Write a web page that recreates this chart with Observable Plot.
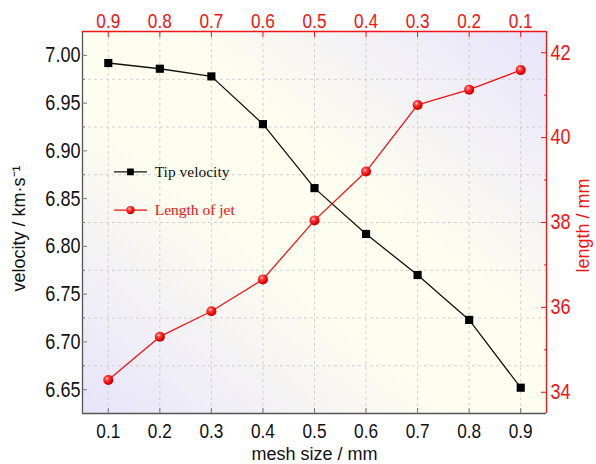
<!DOCTYPE html>
<html><head><meta charset="utf-8">
<script src="https://cdn.jsdelivr.net/npm/d3@7"></script>
<script src="https://cdn.jsdelivr.net/npm/@observablehq/plot@0.6"></script>
<style>
body{margin:0;background:#fff;}
#chart{width:596px;height:464px;position:relative;}
</style></head><body><div id="chart"></div>
<script>
// ---- data ----
const meshSize = [0.1, 0.2, 0.3, 0.4, 0.5, 0.6, 0.7, 0.8, 0.9];
const tipVelocity = [6.992, 6.986, 6.978, 6.928, 6.861, 6.813, 6.770, 6.723, 6.652];
const meshSizeTop = [0.9, 0.8, 0.7, 0.6, 0.5, 0.4, 0.3, 0.2, 0.1];
const jetLength = [34.29, 35.31, 35.91, 36.66, 38.05, 39.20, 40.77, 41.13, 41.59];
const velocityTicks = [6.65, 6.70, 6.75, 6.80, 6.85, 6.90, 6.95, 7.00];
const velocityMinor = [6.675, 6.725, 6.775, 6.825, 6.875, 6.925, 6.975];
const lengthTicks = [34, 36, 38, 40, 42];
const lengthMinor = [35, 37, 39, 41];
const bottomTicks = [0.1, 0.2, 0.3, 0.4, 0.5, 0.6, 0.7, 0.8, 0.9];
const topTicks = [0.9, 0.8, 0.7, 0.6, 0.5, 0.4, 0.3, 0.2, 0.1];
const xDomain = [0.05, 0.95];
const yDomain = [6.625, 7.025];
const lengthDomain = [33.5, 42.5];
const legendLabels = ["Tip velocity", "Length of jet"];
const legendColors = ["#111111", "#f01010"];

// ---- helpers ----
const RED = "#f01414";
const topToX = m => xDomain[0] + xDomain[1] - m;
const lenToY = L => yDomain[0] + (L - lengthDomain[0]) / (lengthDomain[1] - lengthDomain[0]) * (yDomain[1] - yDomain[0]);
const yToLen = v => lengthDomain[0] + (v - yDomain[0]) / (yDomain[1] - yDomain[0]) * (lengthDomain[1] - lengthDomain[0]);

const velData = meshSize.map((m, i) => ({x: m, y: tipVelocity[i]}));
const lenData = meshSizeTop.map((m, i) => ({x: topToX(m), y: lenToY(jetLength[i])}));

// legend placement (data units inside frame)
const lgX0 = 0.112, lgX1 = 0.174, lgXm = 0.143, lgXt = 0.19;
const lgY = [6.878, 6.838];
const legendLine = legendLabels.flatMap((l, i) => [{x: lgX0, y: lgY[i], k: i}, {x: lgX1, y: lgY[i], k: i}]);
const legendPts = legendLabels.map((l, i) => ({x: lgXm, xt: lgXt, y: lgY[i], label: l, k: i}));

const tickFont = "'Liberation Sans', Arial, sans-serif";
const titleFont = "'Liberation Sans', Arial, sans-serif";

const plot = Plot.plot({
  width: 596,
  height: 464,
  marginLeft: 82,
  marginRight: 50,
  marginTop: 31,
  marginBottom: 51,
  style: {fontFamily: tickFont, fontSize: "20px", background: "transparent", overflow: "visible"},
  x: {domain: xDomain, axis: null},
  y: {domain: yDomain, axis: null},
  marks: [
    Plot.frame({fill: "url(#bgGrad)", stroke: null}),
    Plot.gridY(velocityMinor, {stroke: "#c8c8c8", strokeOpacity: 0.8, strokeDasharray: "3,3"}),
    Plot.gridX(bottomTicks, {stroke: "#c8c8c8", strokeOpacity: 0.8, strokeDasharray: "3,3"}),
    // frame edges
    Plot.ruleX([xDomain[0]], {stroke: "#555", strokeWidth: 1.3}),
    Plot.ruleY([yDomain[0]], {stroke: "#555", strokeWidth: 1.3}),
    Plot.ruleX([xDomain[1]], {stroke: RED, strokeWidth: 1.3}),
    Plot.ruleY([yDomain[1]], {stroke: RED, strokeWidth: 1.3}),
    // left axis (ticks pointing inward)
    Plot.axisY(velocityTicks, {anchor: "left", tickSize: 5, dx: 5, tickPadding: 2, stroke: "#777", fill: "#111", fontSize: 21.5, tickFormat: d => d.toFixed(2), label: null}),
    Plot.axisY(velocityMinor, {anchor: "left", tickSize: 3, dx: 3, stroke: "#777", fill: "none", label: null}),
    // right axis
    Plot.axisY(lengthTicks.map(lenToY), {anchor: "right", tickSize: 6, dx: -6, tickPadding: 4, stroke: RED, fill: RED, fontSize: 21.5, tickFormat: v => String(Math.round(yToLen(v))), label: null}),
    Plot.axisY(lengthMinor.map(lenToY), {anchor: "right", tickSize: 3, dx: -3, stroke: RED, fill: "none", label: null}),
    // bottom axis
    Plot.axisX(bottomTicks, {anchor: "bottom", tickSize: 5, dy: -5, tickPadding: 10, stroke: "#777", fill: "#111", fontSize: 20.5, tickFormat: d => d.toFixed(1), label: null}),
    // top axis
    Plot.axisX(topTicks.map(topToX), {anchor: "top", tickSize: 5, dy: 5, tickPadding: 4, stroke: RED, fill: RED, fontSize: 20.5, tickFormat: x => (xDomain[0] + xDomain[1] - x).toFixed(1), label: null}),
    // titles
    Plot.text(["mesh size / mm"], {frameAnchor: "bottom", dy: 41, text: d => d, textAnchor: "middle", lineAnchor: "middle", fontFamily: titleFont, fontSize: 18, fill: "#111"}),
    Plot.text(["velocity / km·s⁻¹"], {frameAnchor: "left", dx: -63, dy: 6, rotate: -90, text: d => d, textAnchor: "middle", lineAnchor: "middle", fontFamily: titleFont, fontSize: 18, fill: "#111"}),
    Plot.text(["length / mm"], {frameAnchor: "right", dx: 37, dy: 3, rotate: -90, text: d => d, textAnchor: "middle", lineAnchor: "middle", fontFamily: titleFont, fontSize: 18, fill: RED}),
    // series
    Plot.line(velData, {x: "x", y: "y", stroke: "#111", strokeWidth: 1.3}),
    Plot.dot(velData, {x: "x", y: "y", symbol: "square", r: 4.6, fill: "#000", stroke: "none"}),
    Plot.line(lenData, {x: "x", y: "y", stroke: RED, strokeWidth: 1.3}),
    Plot.dot(lenData, {x: "x", y: "y", r: 5, fill: "url(#ball)", stroke: "none"}),
    // legend
    Plot.line(legendLine, {x: "x", y: "y", z: "k", stroke: d => legendColors[d.k], strokeWidth: 1.3}),
    Plot.dot(legendPts.filter(d => d.k === 0), {x: "x", y: "y", symbol: "square", r: 3.8, fill: "#000", stroke: "none"}),
    Plot.dot(legendPts.filter(d => d.k === 1), {x: "x", y: "y", r: 4.2, fill: "url(#ball)", stroke: "none"}),
    Plot.text(legendPts, {x: "xt", y: "y", text: "label", textAnchor: "start", lineAnchor: "middle", fontFamily: "'Liberation Serif', 'Times New Roman', serif", fontSize: 15.5, fill: d => legendColors[d.k]})
  ]
});
document.getElementById("chart").appendChild(plot);

// condense axis tick labels horizontally (narrow-font look of the reference)
d3.select(plot).selectAll("text").each(function() {
  let g = this.parentNode, isTick = false;
  while (g && g !== plot) {
    const a = (g.getAttribute && g.getAttribute("aria-label")) || "";
    if (/axis/.test(a)) { isTick = true; break; }
    g = g.parentNode;
  }
  if (!isTick) return;
  const t = this.getAttribute("transform") || "";
  this.setAttribute("transform", (t + " scale(0.84,1)").trim());
});

d3.select(plot).insert("defs", ":first-child").html(`
  <linearGradient id="bgGrad" x1="0" y1="1" x2="1" y2="0">
    <stop offset="0" stop-color="#e7e4fa"/>
    <stop offset="0.4" stop-color="#fdfdf0"/>
    <stop offset="0.6" stop-color="#fdfdf0"/>
    <stop offset="1" stop-color="#e7e4fb"/>
  </linearGradient>
  <radialGradient id="ball" cx="0.38" cy="0.35" r="0.7">
    <stop offset="0" stop-color="#ffd8d8"/>
    <stop offset="0.25" stop-color="#ff4a4a"/>
    <stop offset="0.7" stop-color="#ee0000"/>
    <stop offset="1" stop-color="#b00000"/>
  </radialGradient>`);
</script>
</body></html>
